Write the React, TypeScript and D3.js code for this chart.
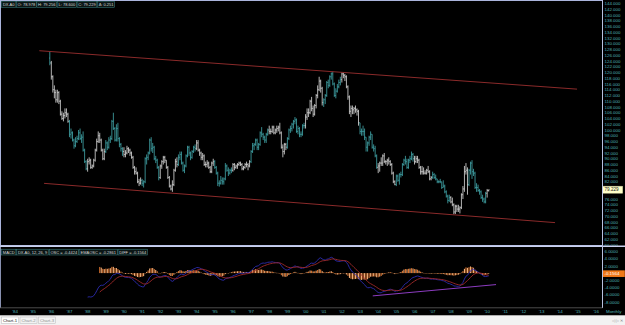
import React from 'react';
import * as d3 from 'd3';

const W = 625, H = 325;

// Monthly bars, first bar = Dec 1985
const firstOpen = 125.0;
const startYear = 1985;
const startMonth = 11;
const highs = [
  127.3,
  124.0,119.0,115.5,114.0,114.0,113.5,110.5,106.5,106.0,107.5,107.5,106.0,
  103.5,100.5,99.5,97.0,97.5,98.0,100.0,100.5,98.5,99.5,93.5,89.5,
  90.0,90.5,90.0,88.0,90.0,93.5,97.0,99.5,99.0,97.0,93.5,93.5,
  96.5,96.0,97.5,98.0,103.5,106.0,101.0,102.0,102.5,97.5,95.5,94.0,
  94.0,93.0,94.5,94.0,93.5,92.5,91.0,87.5,87.0,85.5,83.0,83.5,
  83.0,82.5,90.5,91.5,92.5,97.0,97.5,95.5,94.5,91.0,90.0,87.5,
  88.0,89.5,91.0,91.0,89.5,87.5,84.0,81.0,82.5,86.5,90.0,90.5,
  91.5,92.5,92.5,89.0,88.0,91.5,94.5,94.5,92.5,93.0,94.5,95.0,
  96.5,96.5,93.5,92.5,92.0,91.5,89.0,89.5,89.0,87.5,89.0,90.0,
  89.5,87.5,85.5,82.5,84.0,83.5,83.5,88.5,88.0,87.0,86.5,87.0,
  88.5,88.5,88.0,88.5,89.0,89.0,88.5,87.5,88.5,89.0,88.5,89.5,
  93.0,95.5,95.5,97.0,97.0,95.5,99.5,101.0,99.0,98.0,99.0,100.5,
  101.5,100.5,101.5,101.5,100.5,101.5,101.5,102.5,99.5,95.0,95.5,95.5,
  97.5,100.5,101.5,102.5,103.5,104.5,104.0,101.5,101.0,99.5,102.0,102.5,
  105.5,107.5,107.5,110.5,111.5,108.5,109.0,112.5,115.5,118.5,117.5,115.0,
  111.0,112.5,117.0,117.5,119.0,120.0,120.3,116.5,114.5,116.0,117.5,118.5,
  120.0,120.0,119.5,119.0,115.5,112.0,108.5,108.5,108.0,108.5,107.5,107.0,
  102.5,100.5,101.5,100.5,97.5,96.0,98.0,99.5,98.5,95.0,94.5,91.5,
  88.5,89.0,90.5,91.5,92.0,89.5,90.0,90.5,89.5,88.5,85.5,82.5,
  84.5,84.5,85.0,85.5,88.5,90.0,91.0,90.0,90.0,91.0,92.5,92.0,
  91.0,91.0,91.0,90.0,87.5,87.5,87.0,86.0,86.5,87.5,86.0,84.0,
  85.5,85.0,84.5,83.0,82.5,83.0,82.0,82.5,81.0,79.0,77.5,77.5,
  77.0,76.5,74.5,74.0,74.0,74.0,73.5,78.0,80.5,87.5,88.5,87.0,
  86.5,89.0,89.5,86.5,85.5,81.5,81.0,79.5,79.0,77.5,76.5,78.5,
  79.5,79.256,
];
const lows = [
  122.5,
  117.5,113.0,111.0,109.5,109.5,109.0,105.0,103.5,103.0,104.0,104.5,102.5,
  97.5,97.0,96.0,93.5,94.0,95.5,96.5,96.5,95.5,92.5,88.5,86.0,
  85.5,88.0,86.5,86.5,87.0,89.0,92.5,95.5,95.5,92.5,89.5,89.5,
  92.0,93.0,93.5,95.5,96.5,100.0,96.0,96.0,96.0,94.0,92.5,91.0,
  90.5,90.5,91.5,92.0,91.0,90.0,86.5,84.5,84.5,81.5,80.5,81.0,
  80.5,80.0,81.5,88.0,89.5,91.5,92.5,92.0,89.5,88.5,86.5,82.5,
  83.0,86.5,88.0,88.5,86.5,83.0,80.0,79.0,78.5,80.5,85.5,87.0,
  87.5,89.5,88.0,85.5,85.0,87.0,90.5,91.0,89.5,90.0,92.0,92.5,
  93.0,92.5,91.0,89.5,89.5,87.5,87.0,87.0,86.5,85.0,85.0,87.5,
  86.5,84.5,80.5,80.3,81.0,81.0,81.0,82.5,85.5,84.0,84.5,85.0,
  85.5,86.0,86.5,86.5,87.5,87.5,86.0,86.0,86.5,87.0,86.0,87.0,
  88.5,92.0,93.0,94.5,93.0,93.0,94.5,97.5,96.5,95.5,95.5,98.0,
  98.5,98.5,99.0,98.5,98.5,99.0,99.5,98.5,93.5,90.5,91.5,93.0,
  93.5,96.5,99.0,99.5,100.5,102.0,99.0,98.5,97.5,97.5,98.0,100.5,
  100.5,103.5,104.5,105.5,106.5,104.5,105.0,107.5,111.0,113.5,113.0,108.5,
  108.0,109.0,111.5,114.5,115.0,117.5,115.5,111.5,111.0,113.0,114.5,115.5,
  116.5,118.0,117.0,114.5,110.5,105.5,104.5,105.5,105.5,106.0,105.0,101.5,
  98.5,98.0,98.0,96.5,92.5,92.5,94.5,96.5,93.5,92.5,90.5,86.5,
  85.0,85.5,87.5,87.5,88.5,88.0,87.5,88.0,87.5,84.5,81.5,80.8,
  80.5,82.0,81.0,83.5,84.0,87.5,88.0,86.5,86.5,88.5,89.5,89.0,
  88.0,88.5,88.5,86.5,84.5,84.5,84.5,84.5,84.5,85.0,82.5,82.5,
  83.0,83.0,82.5,81.5,81.5,81.5,79.5,80.0,78.0,76.5,74.5,75.0,
  74.5,73.5,70.7,70.8,71.5,71.5,71.0,72.5,76.0,78.5,84.5,77.5,
  80.5,84.5,83.0,84.0,79.5,78.5,78.5,77.5,76.0,75.0,74.5,74.5,
  76.5,78.6,
];
const closes = [
  123.3,
  118.5,114.0,113.0,110.5,113.0,110.0,105.5,104.0,105.0,106.0,105.5,103.0,
  98.5,99.0,96.5,94.5,96.0,97.0,99.0,97.0,97.5,93.0,89.0,86.5,
  89.0,89.5,87.0,87.5,89.5,93.0,96.0,98.0,96.5,93.0,90.0,92.5,
  95.5,94.0,96.5,97.0,103.0,100.5,96.5,100.5,97.0,95.0,93.5,92.5,
  91.5,92.0,93.5,93.0,92.0,90.5,87.0,85.5,85.0,82.0,81.5,82.5,
  81.5,82.0,90.0,90.5,92.0,96.5,93.5,94.0,90.0,89.5,87.0,83.5,
  87.5,89.0,90.5,89.5,87.0,83.5,80.5,79.5,81.0,86.0,89.0,88.0,
  90.5,91.5,88.5,86.0,87.5,91.0,94.0,92.0,90.5,92.5,94.0,93.5,
  95.5,93.0,92.0,90.5,91.0,88.0,88.0,88.5,87.0,85.5,88.5,89.0,
  87.0,85.0,81.5,81.5,82.5,82.0,83.0,87.5,86.0,85.0,86.0,86.0,
  88.0,87.0,87.5,88.0,88.5,88.0,86.5,87.0,88.0,88.0,87.5,89.0,
  92.5,94.5,95.0,96.5,94.0,95.0,99.0,98.5,97.5,96.5,98.5,100.0,
  99.5,99.5,101.0,99.0,100.0,100.5,101.0,99.0,94.0,92.5,95.0,94.0,
  97.0,100.0,100.5,102.0,103.0,103.5,99.5,100.5,98.5,98.5,101.5,101.5,
  104.5,106.0,106.0,110.0,107.5,105.5,108.5,112.0,114.0,117.0,114.5,109.5,
  110.5,112.0,116.5,115.5,118.5,119.5,116.0,112.0,113.5,115.0,116.5,117.5,
  119.5,119.0,118.5,115.0,111.5,106.5,107.5,107.0,107.5,107.0,106.5,102.5,
  99.5,99.5,99.5,97.5,94.0,95.5,97.5,98.5,94.0,93.5,91.0,87.0,
  87.5,88.5,88.5,91.0,89.0,89.0,89.5,89.0,88.0,85.0,82.0,81.0,
  84.0,82.5,84.5,84.5,88.0,89.5,89.0,87.0,89.5,90.0,91.5,90.0,
  89.0,90.0,89.5,87.0,85.5,85.5,85.0,85.0,86.0,85.5,83.0,83.5,
  84.5,83.5,83.0,82.0,82.0,82.0,80.0,80.5,78.5,77.0,75.5,76.5,
  75.0,74.0,71.5,73.5,72.5,72.5,73.0,77.5,79.5,85.5,86.0,81.0,
  86.0,88.5,85.5,85.0,80.0,80.0,79.0,78.5,76.5,76.0,75.0,78.0,
  78.978,79.229,
];

const yearLabels = ["'84","'85","'86","'87","'88","'89","'90","'91","'92","'93","'94","'95","'96","'97","'98","'99","'00","'01","'02","'03","'04","'05","'06","'07","'08","'09","'10","'11","'12","'13","'14","'15","'16"];
const priceTicks = [144,142,140,138,136,134,132,130,128,126,124,122,120,118,116,114,112,110,108,106,104,102,100,98,96,94,92,90,88,86,84,82,80,78,76,74,72,70,68,66,64,62,60];
const macdTicks = [6,4,2,0,-2,-4,-6,-8];

// channel lines (time, price)
const upperChannel = [[1985.34, 127.55], [2014.95, 114.2]];
const lowerChannel = [[1985.6, 81.45], [2013.74, 67.8]];
const macdTrend = [[2003.70, -6.33], [2010.49, -3.19]];

const mainHeader = ['DX.A0', 'O: 78.978', 'H: 79.256', 'L: 78.600', 'C: 79.229', 'Δ: 0.251'];
const macdHeader = ['MACD', 'DX.A0, 12, 26, 9', 'OSC = -0.4424', 'EMAOSC = -0.2861', 'DIFF = -0.1564'];
const lastPrice = 79.229;
const lastPriceLabel = '79.229';
const lastDiff = -0.1564;
const lastDiffLabel = '-0.1564';
const tabs = ['Chart-1', 'Chart-2', 'Chart-3'];

const FONT = 'Liberation Sans, Arial, sans-serif';
const HFS = 4.0;

// approximate Arial advance widths (em)
function textEm(s: string) {
  let w = 0;
  for (const ch of s) {
    if (/[0-9]/.test(ch)) w += 0.556;
    else if (ch === '.' || ch === ',' || ch === ':' || ch === ' ') w += 0.278;
    else if (ch === '=') w += 0.584;
    else if (ch === '-') w += 0.333;
    else if (ch === 'M') w += 0.833;
    else if (ch === 'I') w += 0.278;
    else if (ch === 'F' || ch === 'L') w += 0.611;
    else if (/[A-Z]/.test(ch)) w += 0.722;
    else w += 0.667;
  }
  return w;
}

function ema(vals: number[], n: number) {
  const a = 2 / (n + 1);
  const out: number[] = [];
  let e = vals[0];
  vals.forEach((v, i) => { e = i === 0 ? v : a * v + (1 - a) * e; out.push(e); });
  return out;
}

export default function App() {
  const x = d3.scaleLinear().domain([1984, 2016]).range([15, 596.1]);
  const y = d3.scaleLinear().domain([62, 144]).range([239.3, 3.4]);
  const ym = d3.scaleLinear().domain([-8, 6]).range([301.9, 251.5]);

  const bars = closes.map((c, i) => {
    const m = startMonth + i;
    const yr = startYear + Math.floor(m / 12);
    const o = i === 0 ? firstOpen : closes[i - 1];
    return { t: startYear + m / 12, yr, o, h: highs[i], l: lows[i], c };
  });

  const e12 = ema(closes, 12), e26 = ema(closes, 26);
  const macdAll = closes.map((_, i) => e12[i] - e26[i]);
  const from = 25;
  const tOf = (i: number) => startYear + (startMonth + i) / 12;
  const sigPart = ema(macdAll.slice(from), 9);
  const macdPts = macdAll.map((v, i) => ({ t: tOf(i), v })).slice(from);
  const sigPts = sigPart.map((v, k) => ({ t: tOf(k + from), v, diff: macdAll[k + from] - v })).slice(8);

  const line = d3.line<{ t: number; v: number }>().x(d => x(d.t)).y(d => ym(d.v));
  const chLine = d3.line<number[]>().x(d => x(d[0])).y(d => y(d[1]));
  const mtLine = d3.line<number[]>().x(d => x(d[0])).y(d => ym(d[1]));

  const headerBoxes = (items: string[], y0: number) => {
    let cx = 1.5;
    return items.map((s, i) => {
      const w = textEm(s) * HFS + 2.4;
      const a = cx;
      cx += w + 0.6;
      return (
        <g key={i}>
          <rect x={a} y={y0} width={w} height={5.8} fill="#0b1616" stroke="#3f8585" strokeWidth={0.5} />
          <text x={a + w / 2} y={y0 + 4.3} fontSize={HFS} fill="#d8d8d8" fontFamily={FONT} textAnchor="middle">{s}</text>
        </g>
      );
    });
  };

  const yBox = y(lastPrice);
  const ymBox = ym(lastDiff);

  return (
    <div>
      <style>{`body{margin:0;background:#000}`}</style>
      <svg width={W} height={H} style={{ display: 'block', background: '#000' }}>
        <defs>
          <clipPath id="mainClip"><rect x={1} y={1} width={601} height={244} /></clipPath>
          <clipPath id="macdClip"><rect x={1} y={247.5} width={601} height={60} /></clipPath>
        </defs>
        <rect x={0} y={0} width={W} height={H} fill="#000" />

        {/* main panel */}
        <g clipPath="url(#mainClip)">
          {bars.map((b, i) => {
            const xi = x(b.t);
            const col = b.yr % 2 === 0 ? '#d2d2d2' : '#40a0a4';
            return (
              <path key={i}
                d={`M${xi},${y(b.h)}V${y(b.l)}M${xi - 0.8},${y(b.o)}H${xi}M${xi},${y(b.c)}H${xi + 0.8}`}
                stroke={col} strokeWidth={0.85} fill="none" />
            );
          })}
          <path d={chLine(upperChannel) as string} stroke="#8a2a2a" strokeWidth={1} fill="none" />
          <path d={chLine(lowerChannel) as string} stroke="#8a2a2a" strokeWidth={1} fill="none" />
        </g>
        {headerBoxes(mainHeader, 1.6)}

        {/* main right axis */}
        {priceTicks.filter(v => Math.abs(y(v) - yBox) > 4.5).map(v => (
          <text key={v} x={604.5} y={y(v) + 1.6} fontSize={4.4} fill="#4fb0b6" fontFamily={FONT}>{v.toFixed(3)}</text>
        ))}
        <rect x={602.8} y={yBox - 3.6} width={20} height={7.2} fill="#ffffc8" stroke="#b0b080" strokeWidth={0.4} />
        <text x={604.5} y={yBox + 1.7} fontSize={4.6} fill="#202020" fontFamily={FONT}>{lastPriceLabel}</text>

        {/* panel frames */}
        <rect x={0.5} y={0.5} width={602} height={245} fill="none" stroke="#aab4dc" strokeWidth={1} />
        <line x1={0} x2={W} y1={246.2} y2={246.2} stroke="#c8d0ee" strokeWidth={1.4} />

        {/* MACD panel */}
        <g clipPath="url(#macdClip)">
          {sigPts.map((d, i) => {
            const xi = x(d.t);
            const y0 = ym(0), y1 = ym(d.diff);
            return <rect key={i} x={xi - 0.55} y={Math.min(y0, y1)} width={1.1} height={Math.max(0.4, Math.abs(y1 - y0))} fill={i % 2 ? '#f0ae78' : '#d9722e'} />;
          })}
          <path d={line(macdPts) as string} stroke="#2c2cb0" strokeWidth={0.9} fill="none" />
          <path d={line(sigPts) as string} stroke="#a02a2a" strokeWidth={0.9} fill="none" />
          <path d={mtLine(macdTrend) as string} stroke="#8c3cc0" strokeWidth={1} fill="none" />
        </g>
        {headerBoxes(macdHeader, 249.2)}
        {macdTicks.filter(v => Math.abs(ym(v) - ymBox) > 4).map(v => (
          <text key={v} x={604.5} y={ym(v) + 1.6} fontSize={4.4} fill="#4fb0b6" fontFamily={FONT}>{v.toFixed(4)}</text>
        ))}
        <rect x={602.8} y={ymBox - 3.3} width={22} height={6.6} fill="#f07818" />
        <text x={604.5} y={ymBox + 1.6} fontSize={4.4} fill="#ffffff" fontFamily={FONT}>{lastDiffLabel}</text>

        <line x1={0.5} x2={0.5} y1={247} y2={308} stroke="#8890b0" strokeWidth={1} />
        <line x1={602.5} x2={602.5} y1={0} y2={308} stroke="#b8c0e0" strokeWidth={1} />
        <line x1={0} x2={602.5} y1={307.8} y2={307.8} stroke="#606060" strokeWidth={0.8} />

        {/* x axis */}
        {yearLabels.map((s, i) => (
          <text key={s} x={x(1984 + i)} y={313.3} fontSize={4.4} fill="#4fb0b6" textAnchor="middle" fontFamily={FONT}>{s}</text>
        ))}
        <text x={606} y={313.3} fontSize={4.4} fill="#4fb0b6" fontFamily={FONT}>Monthly</text>

        {/* tab bar */}
        <rect x={0} y={315.5} width={W} height={9.5} fill="#f2f2f2" />
        <line x1={0} x2={W} y1={315.5} y2={315.5} stroke="#d0d0d0" strokeWidth={0.6} />
        {tabs.map((s, i) => (
          <g key={s}>
            <rect x={1.5 + i * 18.5} y={317} width={17} height={6.5} fill={i === 0 ? '#ffffff' : '#f2f2f2'} stroke="#b8b8b8" strokeWidth={0.5} />
            <text x={10 + i * 18.5} y={321.9} fontSize={4.2} fill={i === 0 ? '#202020' : '#909090'} textAnchor="middle" fontFamily={FONT}>{s}</text>
          </g>
        ))}
        <text x={612} y={322} fontSize={4.4} fill="#808080" fontFamily={FONT}>◁ ▷ ✕</text>
      </svg>
    </div>
  );
}
